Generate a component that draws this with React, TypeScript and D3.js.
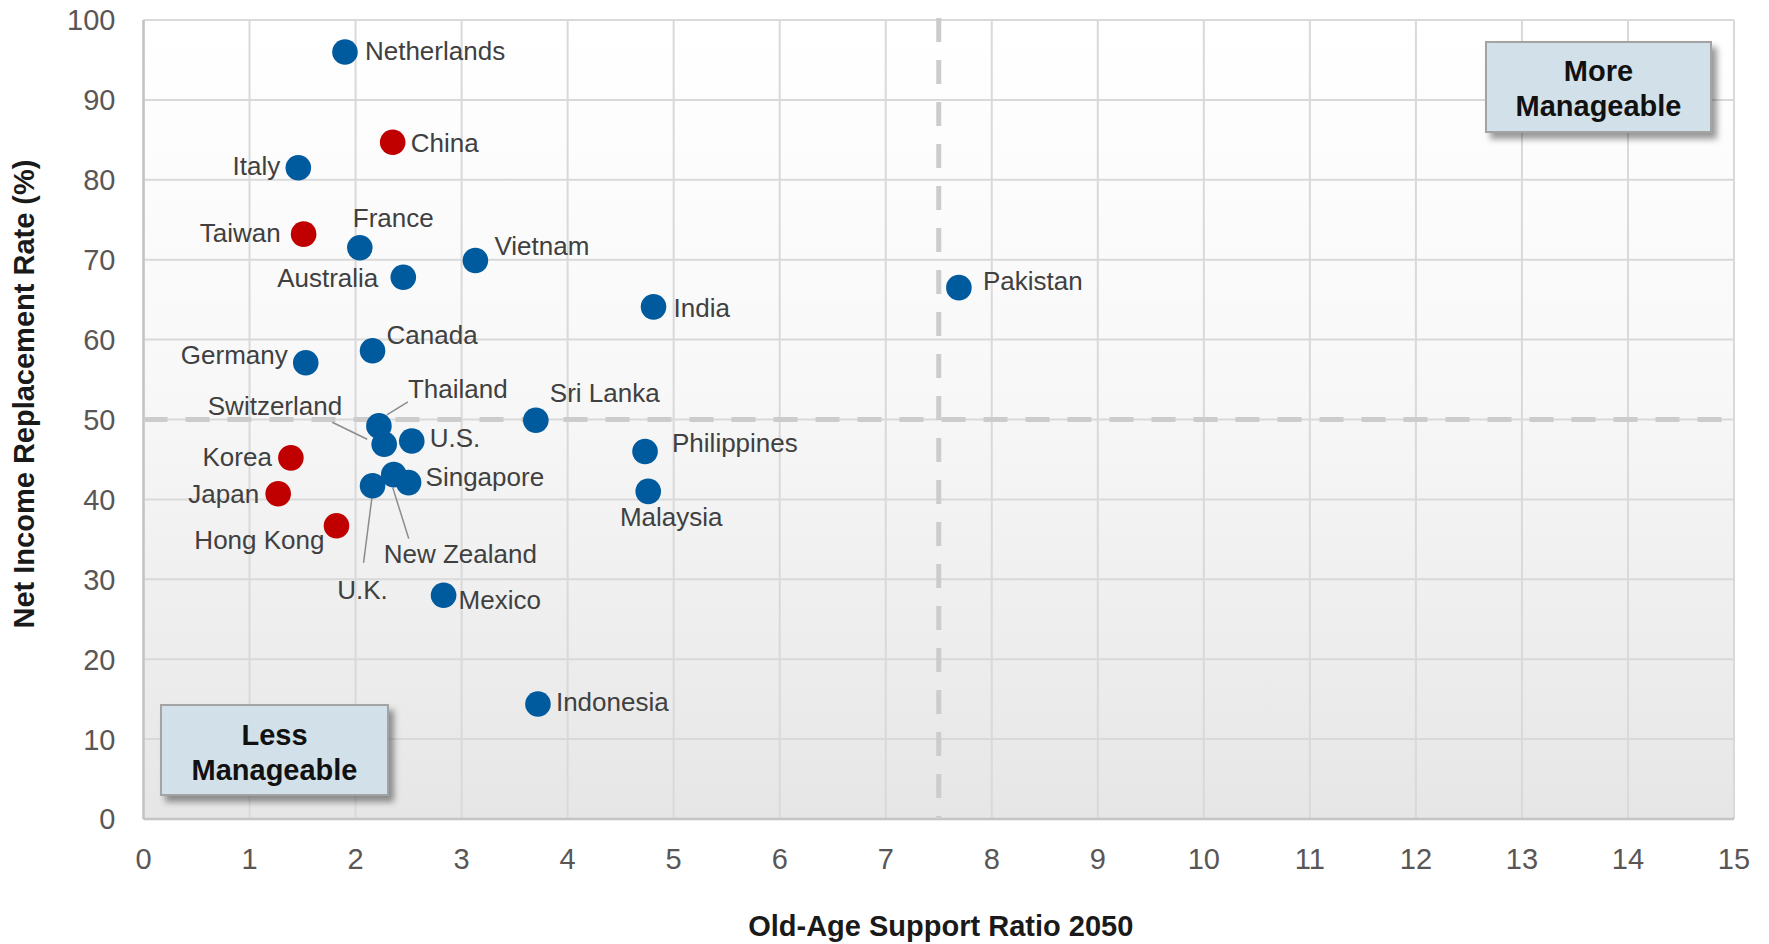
import React from "react";
import * as d3 from "d3";

// Old-age support ratio (2050) vs. net income replacement rate, by economy
const countries = [
  "Netherlands", "China", "Italy", "Taiwan", "France", "Vietnam", "Australia", "Pakistan",
  "India", "Canada", "Germany", "Sri Lanka", "Thailand", "Switzerland", "U.S.", "Philippines",
  "Korea", "Singapore", "New Zealand", "U.K.", "Malaysia", "Japan", "Hong Kong", "Mexico", "Indonesia",
];
const supportRatio = [
  1.9, 2.35, 1.46, 1.51, 2.04, 3.13, 2.45, 7.69,
  4.81, 2.16, 1.53, 3.7, 2.22, 2.27, 2.53, 4.73,
  1.39, 2.5, 2.36, 2.16, 4.76, 1.27, 1.82, 2.83, 3.72,
];
const replacementRate = [
  96.0, 84.7, 81.5, 73.2, 71.5, 69.9, 67.8, 66.5,
  64.1, 58.6, 57.1, 49.9, 49.2, 46.9, 47.3, 46.0,
  45.2, 42.1, 43.1, 41.7, 41.0, 40.7, 36.7, 28.0, 14.4,
];
// Economies highlighted in red (Greater China, Japan, Korea)
const highlighted = ["China", "Taiwan", "Korea", "Japan", "Hong Kong"];

const xTicks = d3.range(0, 16, 1);
const yTicks = d3.range(0, 101, 10);
const xThreshold = 7.5;
const yThreshold = 50;

// Label placement relative to each dot, with optional leader line segments
type LabelPos = { dx: number; dy: number; anchor: "start" | "end" | "middle"; leader?: [number, number, number, number] };
const labelPos: Record<string, LabelPos> = {
  Netherlands: { dx: 20, dy: 8, anchor: "start" },
  China: { dx: 18, dy: 10, anchor: "start" },
  Italy: { dx: -18, dy: 7, anchor: "end" },
  Taiwan: { dx: -23, dy: 8, anchor: "end" },
  France: { dx: -7, dy: -21, anchor: "start" },
  Vietnam: { dx: 19, dy: -5, anchor: "start" },
  Australia: { dx: -25, dy: 10, anchor: "end" },
  Pakistan: { dx: 24, dy: 2, anchor: "start" },
  India: { dx: 20, dy: 10, anchor: "start" },
  Canada: { dx: 14, dy: -7, anchor: "start" },
  Germany: { dx: -18, dy: 1, anchor: "end" },
  "Sri Lanka": { dx: 14, dy: -18, anchor: "start" },
  Thailand: { dx: 29, dy: -28, anchor: "start", leader: [8, -11, 29, -24] },
  Switzerland: { dx: -42, dy: -29, anchor: "end", leader: [-52, -22, -17, -5] },
  "U.S.": { dx: 18, dy: 6, anchor: "start" },
  Philippines: { dx: 27, dy: 1, anchor: "start" },
  Korea: { dx: -19, dy: 8, anchor: "end" },
  Singapore: { dx: 17, dy: 3, anchor: "start" },
  "New Zealand": { dx: -10, dy: 88, anchor: "start", leader: [-1, 13, 15, 64] },
  "U.K.": { dx: -10, dy: 113, anchor: "middle", leader: [0, 7, -9, 77] },
  Malaysia: { dx: 23, dy: 35, anchor: "middle" },
  Japan: { dx: -19, dy: 9, anchor: "end" },
  "Hong Kong": { dx: -12, dy: 23, anchor: "end" },
  Mexico: { dx: 15, dy: 14, anchor: "start" },
  Indonesia: { dx: 18, dy: 7, anchor: "start" },
};

const W = 1769;
const H = 944;
const left = 143.5;
const right = 1734;
const top = 20;
const bottom = 819;

const FONT = "'Liberation Sans', Arial, Helvetica, sans-serif";
const BLUE = "#005a9e";
const RED = "#c00000";

export default function App() {
  const x = d3.scaleLinear().domain([0, 15]).range([left, right]);
  const y = d3.scaleLinear().domain([0, 100]).range([bottom, top]);

  const points = countries.map((name, i) => ({
    name,
    cx: x(supportRatio[i]),
    cy: y(replacementRate[i]),
    red: highlighted.includes(name),
  }));

  return (
    <div style={{ position: "absolute", left: 0, top: 0, width: W, height: H, background: "#fff" }}>
      <svg width={W} height={H} style={{ display: "block" }} fontFamily={FONT}>
        <defs>
          <linearGradient id="plotBg" x1="0" y1="0" x2="0" y2="1">
            <stop offset="0" stopColor="#ffffff" />
            <stop offset="0.45" stopColor="#f8f8f8" />
            <stop offset="1" stopColor="#e6e6e6" />
          </linearGradient>
          <filter id="boxShadow" x="-10%" y="-10%" width="130%" height="140%">
            <feDropShadow dx="5" dy="6" stdDeviation="3" floodColor="#000" floodOpacity="0.4" />
          </filter>
        </defs>

        {/* plot area */}
        <rect x={left} y={top} width={right - left} height={bottom - top} fill="url(#plotBg)" />

        {/* grid */}
        {xTicks.map((t) => (
          <line key={"gx" + t} x1={x(t)} x2={x(t)} y1={top} y2={bottom} stroke="#d9d9d9" strokeWidth={2} />
        ))}
        {yTicks.map((t) => (
          <line key={"gy" + t} x1={left} x2={right} y1={y(t)} y2={y(t)} stroke="#d9d9d9" strokeWidth={2} />
        ))}

        {/* axis lines */}
        <line x1={left} x2={left} y1={top} y2={bottom} stroke="#c4c4c4" strokeWidth={2.5} />
        <line x1={left} x2={right} y1={bottom} y2={bottom} stroke="#c4c4c4" strokeWidth={2.5} />

        {/* quadrant thresholds */}
        <line x1={x(xThreshold)} x2={x(xThreshold)} y1={top - 2} y2={bottom} stroke="#cccccc" strokeWidth={5} strokeDasharray="24 18" />
        <line x1={left} x2={right + 4} y1={y(yThreshold)} y2={y(yThreshold)} stroke="#cccccc" strokeWidth={5} strokeDasharray="24 18" />

        {/* tick labels */}
        {yTicks.map((t) => (
          <text key={"ty" + t} x={left - 28} y={y(t)} dy="0.36em" textAnchor="end" fontSize={29} fill="#5a5656">
            {t}
          </text>
        ))}
        {xTicks.map((t) => (
          <text key={"tx" + t} x={x(t)} y={869} textAnchor="middle" fontSize={29} fill="#5a5656">
            {t}
          </text>
        ))}

        {/* axis titles */}
        <text x={(left + right) / 2 + 2} y={936} textAnchor="middle" fontSize={29} fontWeight="bold" fill="#1a1a1a">
          Old-Age Support Ratio 2050
        </text>
        <text transform="translate(34,394) rotate(-90)" textAnchor="middle" fontSize={29} fontWeight="bold" fill="#1a1a1a">
          Net Income Replacement Rate (%)
        </text>

        {/* leader lines */}
        {points.map((p) => {
          const l = labelPos[p.name];
          if (!l || !l.leader) return null;
          const [x1, y1, x2, y2] = l.leader;
          return (
            <line key={"ld" + p.name} x1={p.cx + x1} y1={p.cy + y1} x2={p.cx + x2} y2={p.cy + y2} stroke="#8c8c8c" strokeWidth={1.5} />
          );
        })}

        {/* dots */}
        {points.map((p) => (
          <circle key={"c" + p.name} cx={p.cx} cy={p.cy} r={12.8} fill={p.red ? RED : BLUE} />
        ))}

        {/* labels */}
        {points.map((p) => {
          const l = labelPos[p.name];
          return (
            <text key={"l" + p.name} x={p.cx + l.dx} y={p.cy + l.dy} textAnchor={l.anchor} fontSize={26} fill="#404040">
              {p.name}
            </text>
          );
        })}

        {/* quadrant callouts */}
        <g filter="url(#boxShadow)">
          <rect x={1486} y={42} width={225} height={90} fill="#d2e1e9" stroke="#a3a3a3" strokeWidth={2} />
        </g>
        <text x={1598.5} y={81} textAnchor="middle" fontSize={29} fontWeight="bold" fill="#111">More</text>
        <text x={1598.5} y={116} textAnchor="middle" fontSize={29} fontWeight="bold" fill="#111">Manageable</text>

        <g filter="url(#boxShadow)">
          <rect x={161} y={705} width={227} height={90} fill="#d2e1e9" stroke="#a3a3a3" strokeWidth={2} />
        </g>
        <text x={274.5} y={745} textAnchor="middle" fontSize={29} fontWeight="bold" fill="#111">Less</text>
        <text x={274.5} y={780} textAnchor="middle" fontSize={29} fontWeight="bold" fill="#111">Manageable</text>
      </svg>
    </div>
  );
}
